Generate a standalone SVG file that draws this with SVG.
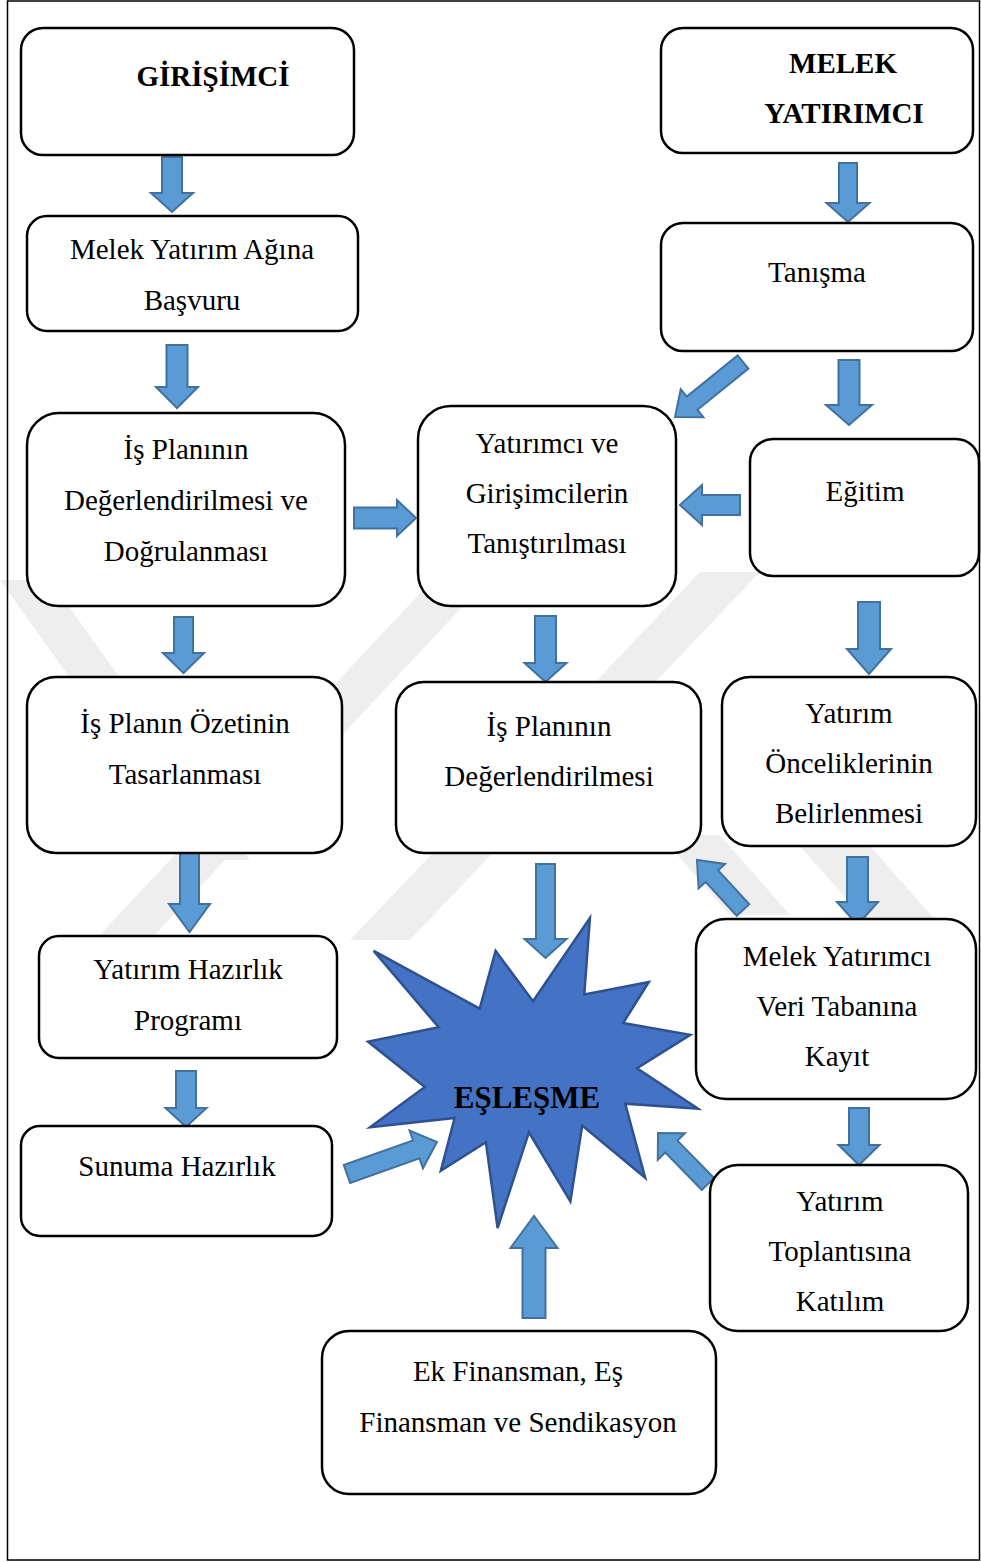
<svg xmlns="http://www.w3.org/2000/svg" width="981" height="1562" viewBox="0 0 981 1562">
<style>
.box{fill:#ffffff;stroke:#000000;stroke-width:2.5}
.t{font-family:"Liberation Serif","Times New Roman",serif;font-size:29px;fill:#000000;text-anchor:middle}
.b{font-weight:bold}
.arr{fill:#5B9BD5;stroke:#41719C;stroke-width:2;stroke-linejoin:miter}
.wm{fill:#eeeeee}
</style>
<rect x="0" y="0" width="981" height="1562" fill="#ffffff"/>
<g id="watermark">
<polygon class="wm" points="440,572 495,572 150,940 95,940"/>
<polygon class="wm" points="700,572 760,572 410,940 350,940"/>
<polygon class="wm" points="0,580 50,580 250,860 200,860"/>
<polygon class="wm" points="660,835 720,835 790,915 730,915"/>
<polygon class="wm" points="790,835 860,835 940,925 870,925"/>
</g>
<rect x="7.5" y="1" width="972" height="1559" fill="none" stroke="#000000" stroke-width="1.5"/>
<g id="connectors">
<polygon class="arr" transform="translate(172,157) rotate(90)" points="0,-10 36,-10 36,-21 55,0 36,21 36,10 0,10"/>
<polygon class="arr" transform="translate(848,163) rotate(90)" points="0,-9 40,-9 40,-21.5 59,0 40,21.5 40,9 0,9"/>
<polygon class="arr" transform="translate(177,345) rotate(90)" points="0,-10.5 42,-10.5 42,-21 63,0 42,21 42,10.5 0,10.5"/>
<polygon class="arr" transform="translate(849,360) rotate(90)" points="0,-10.5 45,-10.5 45,-23 65,0 45,23 45,10.5 0,10.5"/>
<polygon class="arr" transform="translate(743,362) rotate(141)" points="0,-8.5 65.5,-8.5 65.5,-18 87.5,0 65.5,18 65.5,8.5 0,8.5"/>
<polygon class="arr" transform="translate(354,518)" points="0,-10.5 43,-10.5 43,-18 62,0 43,18 43,10.5 0,10.5"/>
<polygon class="arr" transform="translate(740,505) rotate(180)" points="0,-10 38,-10 38,-20 60,0 38,20 38,10 0,10"/>
<polygon class="arr" transform="translate(545.5,616) rotate(90)" points="0,-10.5 47,-10.5 47,-21 66,0 47,21 47,10.5 0,10.5"/>
<polygon class="arr" transform="translate(869,602) rotate(90)" points="0,-11 47,-11 47,-22 72,0 47,22 47,11 0,11"/>
<polygon class="arr" transform="translate(183.5,617) rotate(90)" points="0,-9.5 36,-9.5 36,-20.5 56,0 36,20.5 36,9.5 0,9.5"/>
<polygon class="arr" transform="translate(189.5,852) rotate(90)" points="0,-9.5 52,-9.5 52,-20.5 80,0 52,20.5 52,9.5 0,9.5"/>
<polygon class="arr" transform="translate(545.5,864) rotate(90)" points="0,-9.5 75,-9.5 75,-21 94,0 75,21 75,9.5 0,9.5"/>
<polygon class="arr" transform="translate(743,910) rotate(-132.6)" points="0,-8.5 46,-8.5 46,-18 68,0 46,18 46,8.5 0,8.5"/>
<polygon class="arr" transform="translate(857.5,857) rotate(90)" points="0,-10.5 45,-10.5 45,-20.5 68,0 45,20.5 45,10.5 0,10.5"/>
<polygon class="arr" transform="translate(859,1108) rotate(90)" points="0,-10 37,-10 37,-20.5 57,0 37,20.5 37,10 0,10"/>
<polygon class="arr" transform="translate(708,1184) rotate(-134.4)" points="0,-8.5 52.4,-8.5 52.4,-19 71.4,0 52.4,19 52.4,8.5 0,8.5"/>
<polygon class="arr" transform="translate(186,1071) rotate(90)" points="0,-10 37,-10 37,-20.5 56,0 37,20.5 37,10 0,10"/>
<polygon class="arr" transform="translate(347,1174) rotate(-19.6)" points="0,-9.5 73.5,-9.5 73.5,-20 95.5,0 73.5,20 73.5,9.5 0,9.5"/>
<polygon class="arr" transform="translate(534,1318) rotate(-90)" points="0,-11.5 70,-11.5 70,-23.5 102,0 70,23.5 70,11.5 0,11.5"/>
</g>
<g id="girisimci">
<rect class="box" x="21" y="28" width="333" height="127" rx="22"/>
<text class="t b" x="213" y="86">GİRİŞİMCİ</text>
</g>
<g id="melek-yatirimci">
<rect class="box" x="661" y="28" width="312" height="125" rx="22"/>
<text class="t b" x="843" y="73">MELEK</text>
<text class="t b" x="844" y="123">YATIRIMCI</text>
</g>
<g id="basvuru">
<rect class="box" x="27" y="216" width="331" height="115" rx="20"/>
<text class="t" x="192" y="259">Melek Yatırım Ağına</text>
<text class="t" x="192" y="310">Başvuru</text>
</g>
<g id="tanisma">
<rect class="box" x="661" y="223" width="312" height="128" rx="22"/>
<text class="t" x="817" y="282">Tanışma</text>
</g>
<g id="is-plani-degerlendirme-dogrulama">
<rect class="box" x="27" y="413" width="318" height="193" rx="32"/>
<text class="t" x="186" y="459">İş Planının</text>
<text class="t" x="186" y="510">Değerlendirilmesi ve</text>
<text class="t" x="186" y="561">Doğrulanması</text>
</g>
<g id="tanistirma">
<rect class="box" x="418" y="406" width="258" height="200" rx="33"/>
<text class="t" x="547" y="453">Yatırımcı ve</text>
<text class="t" x="547" y="503">Girişimcilerin</text>
<text class="t" x="547" y="553">Tanıştırılması</text>
</g>
<g id="egitim">
<rect class="box" x="750" y="439" width="229" height="137" rx="23"/>
<text class="t" x="865" y="501">Eğitim</text>
</g>
<g id="ozet">
<rect class="box" x="27" y="677" width="315" height="176" rx="29"/>
<text class="t" x="185" y="733">İş Planın Özetinin</text>
<text class="t" x="185" y="784">Tasarlanması</text>
</g>
<g id="is-plani-degerlendirme">
<rect class="box" x="396" y="682" width="305" height="171" rx="28"/>
<text class="t" x="549" y="736">İş Planının</text>
<text class="t" x="549" y="786">Değerlendirilmesi</text>
</g>
<g id="oncelikler">
<rect class="box" x="722" y="677" width="254" height="169" rx="28"/>
<text class="t" x="849" y="723">Yatırım</text>
<text class="t" x="849" y="773">Önceliklerinin</text>
<text class="t" x="849" y="823">Belirlenmesi</text>
</g>
<g id="hazirlik-programi">
<rect class="box" x="39" y="936" width="298" height="122" rx="20"/>
<text class="t" x="188" y="979">Yatırım Hazırlık</text>
<text class="t" x="188" y="1030">Programı</text>
</g>
<g id="veri-tabani">
<rect class="box" x="696" y="919" width="280" height="180" rx="30"/>
<text class="t" x="837" y="966">Melek Yatırımcı</text>
<text class="t" x="837" y="1016">Veri Tabanına</text>
<text class="t" x="837" y="1066">Kayıt</text>
</g>
<g id="sunum">
<rect class="box" x="21" y="1126" width="311" height="110" rx="19"/>
<text class="t" x="177" y="1176">Sunuma Hazırlık</text>
</g>
<g id="toplanti">
<rect class="box" x="710" y="1165" width="258" height="166" rx="28"/>
<text class="t" x="840" y="1211">Yatırım</text>
<text class="t" x="840" y="1261">Toplantısına</text>
<text class="t" x="840" y="1311">Katılım</text>
</g>
<g id="ek-finansman">
<rect class="box" x="322" y="1331" width="394" height="163" rx="27"/>
<text class="t" x="518" y="1381">Ek Finansman, Eş</text>
<text class="t" x="518" y="1432">Finansman ve Sendikasyon</text>
</g>
<g id="eslesme">
<polygon fill="#4472C4" stroke="#2F528F" stroke-width="2.5" stroke-linejoin="miter" points="533.0,1001.2 589.9,918 584.3,994.4 648.8,982.0 623.2,1023.0 690.3,1034.8 637.0,1068.3 698,1108.7 625.2,1103.7 645.2,1177.7 582.2,1125.5 570.4,1201.3 528.9,1132.3 497.6,1228 485.9,1142.3 440.8,1170.8 454.6,1118.0 370.1,1127.3 424.9,1087.0 368,1041.6 438.7,1027.3 373.7,950.9 479.7,1008.7 495.6,950.9"/>
<text class="t b" x="527" y="1108" style="font-size:31px">EŞLEŞME</text>
</g>
</svg>
